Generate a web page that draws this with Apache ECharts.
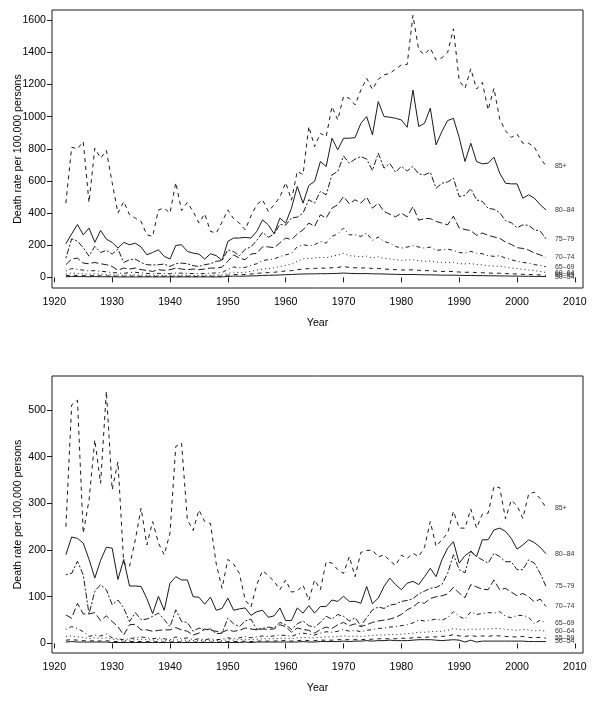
<!DOCTYPE html>
<html><head><meta charset="utf-8">
<script src="https://cdn.jsdelivr.net/npm/echarts@6/dist/echarts.min.js"></script>
<style>html,body{margin:0;padding:0;background:#fff}#c{width:600px;height:707px}</style>
</head><body><div id="c"></div><script>
const years = [1922,1923,1924,1925,1926,1927,1928,1929,1930,1931,1932,1933,1934,1935,1936,1937,1938,1939,1940,1941,1942,1943,1944,1945,1946,1947,1948,1949,1950,1951,1952,1953,1954,1955,1956,1957,1958,1959,1960,1961,1962,1963,1964,1965,1966,1967,1968,1969,1970,1971,1972,1973,1974,1975,1976,1977,1978,1979,1980,1981,1982,1983,1984,1985,1986,1987,1988,1989,1990,1991,1992,1993,1994,1995,1996,1997,1998,1999,2000,2001,2002,2003,2004,2005];
const groups = ['50–54','55–59','60–64','65–69','70–74','75–79','80–84','85+'];

// Upper panel
const top85 = [462,810,800,845,466,804,742,790,590,400, 472,390,369,348,265,255,420,431,400,590, 416,466,410,338,396,286,276,345,420,365, 338,296,383,452,483,410,452,500,590,480, 660,640,939,814,897,876,1063,980,1125,1115, 1073,1166,1239,1170,1233,1260,1270,1296,1322,1324, 1630,1415,1387,1426,1353,1366,1400,1547,1224,1177, 1298,1172,1213,1042,1177,985,913,871,892,835, 835,811,742,695];
const top80 = [209,271,329,265,307,218,292,238,218,182, 218,203,213,189,141,155,172,131,114,199, 203,162,151,145,114,147,135,106,224,245, 245,249,245,286,358,327,271,369,338,431, 566,462,572,597,721,690,866,794,866,866, 870,959,1001,887,1094,1001,997,990,980,934, 1166,939,959,1053,825,908,976,990,870,721, 835,721,707,711,748,649,586,582,582,493, 514,493,452,420];
const top75 = [120,240,225,185,132,193,155,168,145,176, 93,110,114,93,79,77,79,83,68,85, 89,85,73,68,79,85,100,105,172,160, 135,175,190,230,280,250,270,330,325,370, 375,400,483,462,535,514,638,659,756,711, 736,752,736,665,773,680,709,654,692,662, 690,644,638,654,555,586,594,617,503,511, 553,482,473,429,424,403,353,340,309,327, 324,296,288,240];
const top70 = [79,114,120,89,85,93,85,79,68,44, 58,52,58,48,44,37,48,44,48,58, 52,48,52,48,52,58,58,64,100,140, 120,110,145,150,190,190,185,215,245,235, 270,296,338,317,390,369,431,452,503,458, 483,462,500,431,462,410,393,377,400,377, 441,356,366,366,348,338,327,381,307,298, 291,262,276,262,252,243,220,205,185,180, 170,152,140,124];
const top65 = [40,55,50,45,40,42,38,35,30,28, 25,30,32,28,25,22,25,24,22,28, 26,25,24,22,25,26,28,30,50,65, 60,62,75,85,105,110,115,130,140,150, 190,203,197,203,224,213,255,271,307,265, 265,255,276,230,251,224,213,193,182,189, 197,189,182,189,168,172,176,168,155,151, 162,151,147,135,131,135,120,110,100,93, 89,79,75,66];
const top60 = [20,28,25,22,20,22,20,18,16,15, 14,15,16,14,13,12,13,13,12,14, 13,13,12,12,13,13,14,15,25,32, 30,32,38,45,52,55,60,68,75,82, 100,115,118,120,125,122,132,138,150,135, 132,128,132,120,128,118,115,110,106,108, 110,104,100,102,95,94,92,94,86,84, 86,80,78,72,70,70,64,58,55,50, 46,42,38,30];
const top55 = [10,14,12,11,10,11,10,9,8,8, 7,8,8,7,7,6,7,7,6,7, 7,7,6,6,7,7,7,8,14,18, 17,18,21,25,28,30,32,36,40,42, 48,52,55,56,58,57,60,62,68,62, 60,58,60,55,56,52,50,48,46,46, 47,44,42,42,38,37,36,37,33,32, 32,30,29,27,26,26,24,22,21,19, 18,17,15,13];
const top50 = [4,6,5,5,4,5,4,4,4,3, 3,3,3,3,3,3,3,3,3,3, 3,3,3,3,3,3,3,3,6,8, 7,8,9,10,12,13,14,15,17,18, 20,21,22,22,23,23,24,25,27,25, 24,23,24,22,22,21,20,19,18,18, 18,17,16,16,15,14,14,14,13,12, 12,11,11,10,10,9,9,8,8,7, 7,6,6,5];

// Lower panel
const bot85 = [250,511,521,236,307,436,343,540,329,389, 172,165,222,290,211,261,215,190,236,422, 429,265,242,286,261,257,170,118,180,170, 150,93,78,126,156,145,133,115,136,110, 112,125,92,136,115,175,172,158,150,186, 143,195,199,200,185,190,177,167,189,182, 193,186,206,261,208,222,236,283,247,247, 288,247,277,279,336,334,267,307,295,268, 320,324,310,291];
const bot80 = [190,228,225,215,180,140,178,206,204,137, 180,123,123,122,96,64,101,71,129,143, 136,136,100,99,84,99,71,75,97,71, 74,76,60,68,71,56,59,76,49,49, 76,65,81,65,79,79,93,90,101,90, 90,86,122,85,97,122,140,126,115,129, 133,126,143,161,143,179,204,218,172,188, 197,186,222,222,243,247,240,225,202,211, 222,216,206,192];
const bot75 = [147,150,176,147,63,112,126,115,83,93, 76,47,66,51,52,58,65,51,36,72, 47,45,26,33,29,31,21,22,54,42, 36,48,52,30,32,35,33,45,40,30, 42,48,38,35,45,58,52,62,58,48, 55,38,55,72,78,75,82,84,90,92, 96,106,112,118,120,126,150,190,158,151, 198,186,179,172,193,186,175,175,158,158, 179,172,150,122];
const bot70 = [61,54,86,63,63,66,49,59,47,36, 18,40,41,29,29,26,28,29,29,34, 29,26,18,22,31,28,26,24,29,26, 28,33,31,29,31,30,31,40,36,24, 33,30,28,22,30,35,32,40,45,38, 42,36,40,45,48,50,52,56,62,72, 78,88,86,96,100,102,106,120,108,98, 126,121,116,115,136,115,118,110,102,107, 100,89,95,79];
const bot65 = [30,36,32,25,15,18,16,20,12,10, 8,10,12,14,12,10,12,10,8,14, 10,12,8,10,8,10,8,9,12,10, 12,15,12,14,16,15,16,18,17,15, 20,22,20,18,22,25,24,26,30,26, 28,25,28,30,32,33,35,36,38,40, 44,50,48,50,52,50,55,68,58,52, 68,62,64,66,65,68,58,55,60,60, 56,42,50,44];
const bot60 = [15,16,14,13,10,12,11,12,9,8, 6,7,8,9,8,7,8,7,6,8, 7,7,6,7,6,7,6,6,8,7, 8,9,8,9,10,10,10,11,11,10, 12,13,12,12,13,14,14,15,16,15, 16,15,16,17,18,18,19,19,20,21, 22,24,24,25,26,26,28,32,30,29, 31,30,31,31,32,32,30,29,28,30, 29,27,28,26];
const bot55 = [7,8,7,6,5,6,5,6,4,4, 3,4,4,4,4,3,4,3,3,4, 3,3,3,3,3,3,3,3,4,4, 4,5,4,5,5,5,5,6,6,5, 6,7,6,6,7,7,7,8,8,8, 8,8,9,9,10,10,10,10,11,11, 12,13,13,14,14,15,16,19,16,15, 17,15,16,15,17,16,15,14,14,15, 13,12,13,11];
const bot50 = [3,4,3,3,3,3,3,3,2,2, 2,2,2,2,2,2,2,2,2,2, 2,2,2,2,2,2,2,2,2,2, 2,3,2,3,3,3,3,3,3,3, 3,4,3,3,4,4,4,4,5,4, 5,5,6,5,6,6,7,6,6,6, 7,8,8,8,7,6,7,8,7,3, 7,3,5,5,5,5,5,5,5,5, 4,4,4,4];

const xTicks = [1920,1930,1940,1950,1960,1970,1980,1990,2000,2010];
const topYTicks = [0,200,400,600,800,1000,1200,1400,1600];
const botYTicks = [0,100,200,300,400,500];

const topData = [top50, top55, top60, top65, top70, top75, top80, top85];
const botData = [bot50, bot55, bot60, bot65, bot70, bot75, bot80, bot85];

// R line types: solid, dashed, dotted, dotdash, longdash, twodash (recycled)
const dashes = ['solid', [4,4], [1,3], [1,3,4,3], [7,3], [2,2,6,2], 'solid', [4,4]];

const FONT = 'Liberation Sans, Arial, Helvetica, sans-serif';
const INK = '#1a1a1a';
const plain = v => String(v);

function xAxisFor(g) {
  return {
    type: 'value', gridIndex: g, min: 1919.6, max: 2011.4,
    axisLine: { show: false },
    axisTick: { show: true, customValues: xTicks, length: 5, lineStyle: { color: INK, width: 1 } },
    axisLabel: { customValues: xTicks, formatter: plain, color: '#000', fontSize: 10.6, fontFamily: FONT, margin: 9 },
    splitLine: { show: false },
    name: 'Year', nameLocation: 'middle', nameGap: 30, nameMoveOverlap: false,
    nameTextStyle: { color: '#000', fontSize: 10.6, fontFamily: FONT }
  };
}
function yAxisFor(g, min, max, ticks) {
  return {
    type: 'value', gridIndex: g, min: min, max: max,
    axisLine: { show: false },
    axisTick: { show: true, customValues: ticks, length: 5, lineStyle: { color: INK, width: 1 } },
    axisLabel: { customValues: ticks, formatter: plain, color: '#000', fontSize: 10.6, fontFamily: FONT, margin: 6 },
    splitLine: { show: false },
    name: 'Death rate per 100,000 persons', nameLocation: 'middle', nameGap: 28, nameMoveOverlap: false,
    nameTextStyle: { color: '#000', fontSize: 10.6, fontFamily: FONT }
  };
}

const series = [];
[topData, botData].forEach((panel, g) => {
  panel.forEach((vals, k) => {
    series.push({
      type: 'line', name: groups[k], xAxisIndex: g, yAxisIndex: g,
      data: years.map((yr, i) => [yr, vals[i]]),
      showSymbol: false, symbol: 'none', silent: true,
      lineStyle: { color: INK, width: 1, type: dashes[k] },
      endLabel: { show: true, formatter: groups[k], distance: 9, fontSize: 7, color: '#333', fontFamily: FONT }
    });
  });
});

const chart = echarts.init(document.getElementById('c'), null, { renderer: 'canvas' });
chart.setOption({
  animation: false,
  backgroundColor: '#fff',
  grid: [
    { left: 52, right: 17, top: 10, height: 278, show: true, borderColor: INK, borderWidth: 1, backgroundColor: 'transparent', containLabel: false, outerBoundsMode: 'none' },
    { left: 52, right: 17, top: 376, height: 277, show: true, borderColor: INK, borderWidth: 1, backgroundColor: 'transparent', containLabel: false, outerBoundsMode: 'none' }
  ],
  xAxis: [xAxisFor(0), xAxisFor(1)],
  yAxis: [yAxisFor(0, -66, 1664, topYTicks), yAxisFor(1, -20.5, 572.8, botYTicks)],
  series: series
});
</script></body></html>
